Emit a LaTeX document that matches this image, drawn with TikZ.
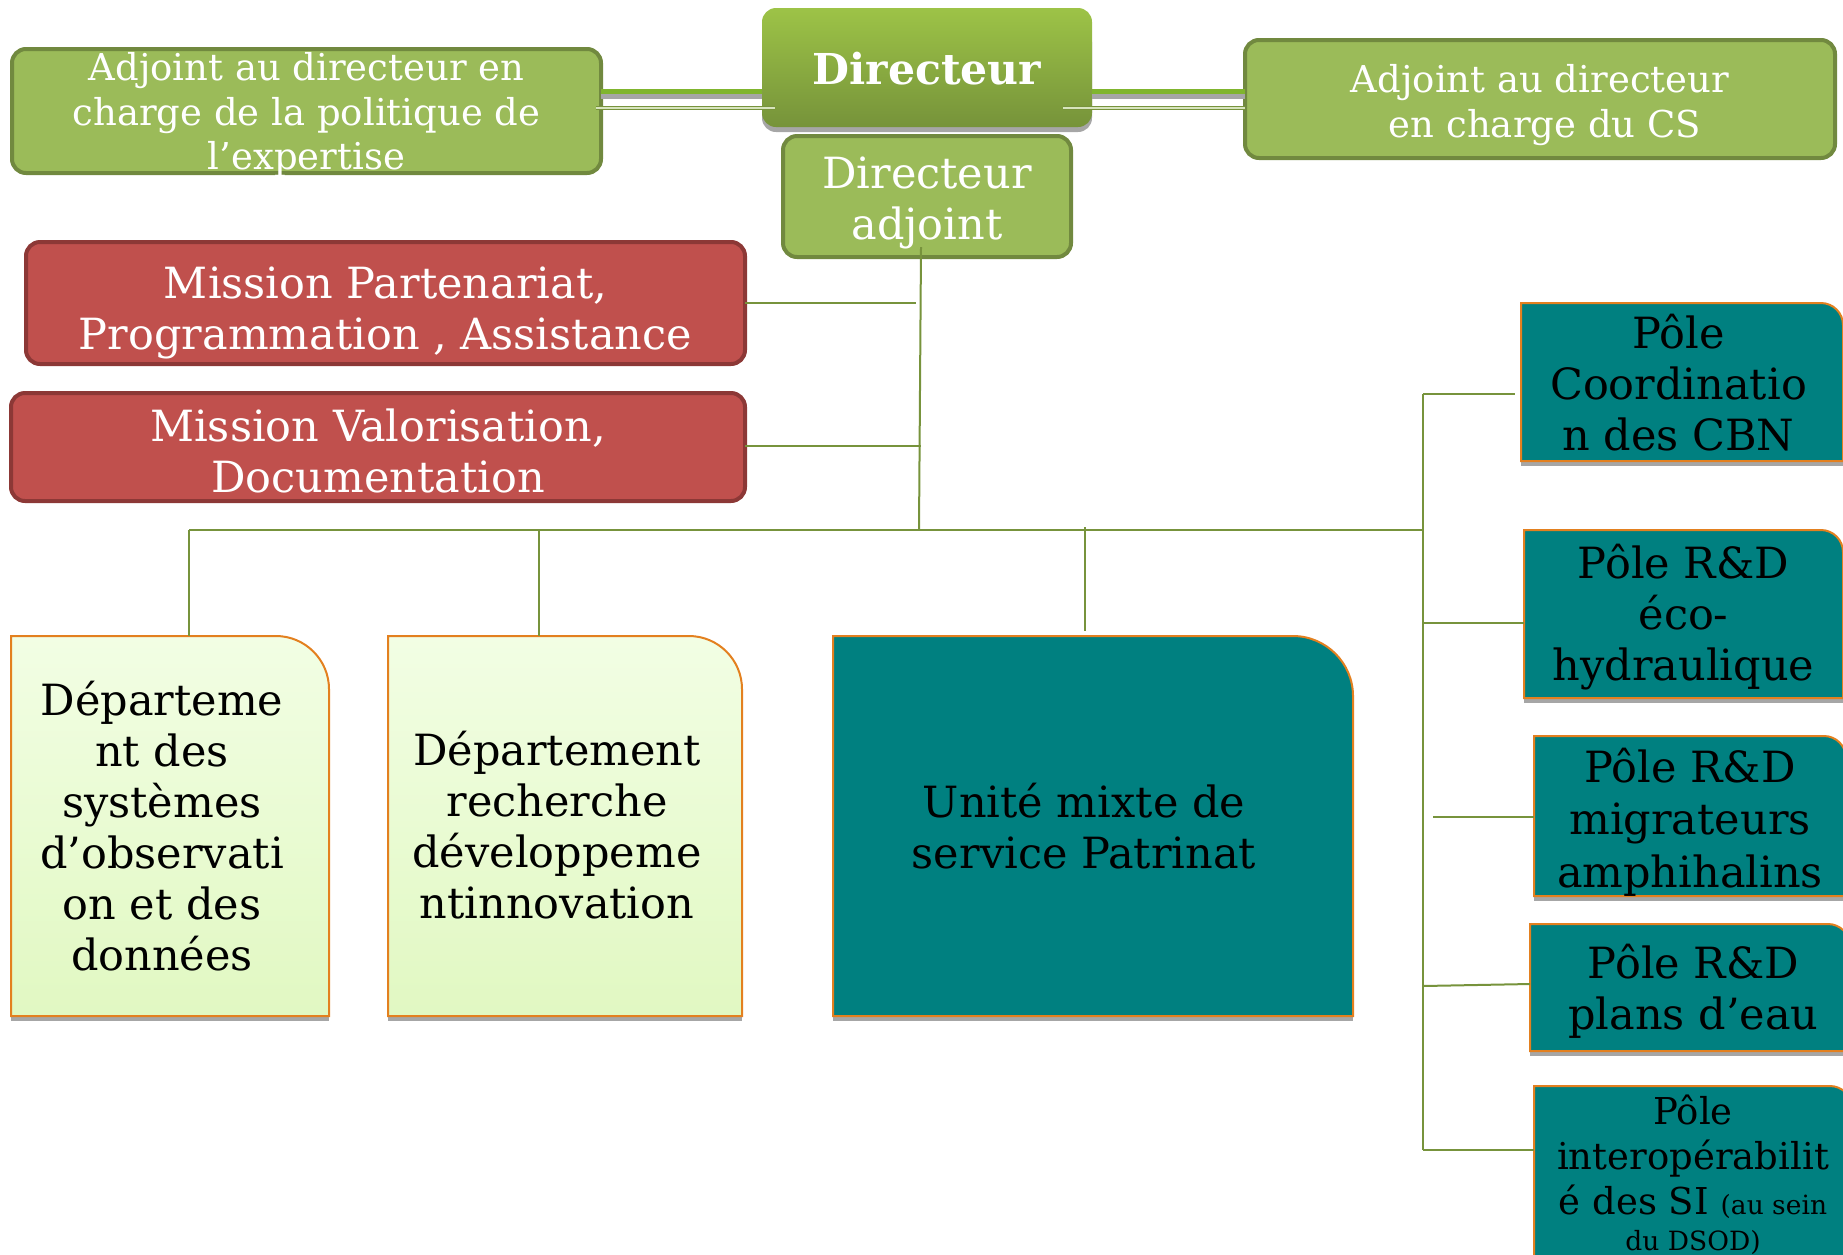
\documentclass[tikz,border=0pt]{standalone}
\usepackage{fontspec}
\setmainfont{DejaVu Serif}
\usetikzlibrary{calc}
\definecolor{gfill}{HTML}{9BBB59}
\definecolor{gdraw}{HTML}{71893F}
\definecolor{rfill}{HTML}{C0504D}
\definecolor{rdraw}{HTML}{8C3836}
\definecolor{tealc}{HTML}{008080}
\definecolor{orng}{HTML}{E3801F}
\definecolor{conn}{HTML}{77933C}
\definecolor{lgtop}{HTML}{F2FEE4}
\definecolor{lgbot}{HTML}{E1F8C2}
\definecolor{dtop}{HTML}{9DC347}
\definecolor{dbot}{HTML}{76933A}
\definecolor{shad}{HTML}{A6A6A6}
\definecolor{brightg}{HTML}{80B52E}
\newcommand\fsBig{\fontsize{43}{51}\selectfont}
\newcommand\fsMid{\fontsize{37}{44.7}\selectfont}
\newcommand\fsTiny{\fontsize{26.5}{32}\selectfont}
\newcommand\TRshape[3]{\path[#3] (#1.south west) -- (#1.north west) -- ($(#1.north east)+(-#2,0)$) .. controls ($(#1.north east)+(-0.45*#2,0)$) and ($(#1.north east)+(0,0.45*#2)$) .. ($(#1.north east)+(0,#2)$) -- (#1.south east) -- cycle;}
\newcommand\BotShadow[1]{\fill[shad] ($(#1.south west)+(0,-4)$) rectangle ($(#1.south east)+(0,5)$);}
\begin{document}
\begin{tikzpicture}[x=1pt,y=-1pt,
  frame/.style={anchor=north west,inner sep=0pt,outer sep=0pt},
  label/.style={anchor=center,inner sep=0pt,align=center},
  wtext/.style={label,text=white},
  btext/.style={label,text=black},
  link/.style={conn,line width=2},
  greenbox/.style={rounded corners=14,fill=gfill,draw=gdraw,line width=4},
  redbox/.style={rounded corners=14,fill=rfill,draw=rdraw,line width=4},
  tealbox/.style={fill=tealc,draw=orng,line width=2},
  lightbox/.style={top color=lgtop,bottom color=lgbot,draw=orng,line width=2},
]
\useasboundingbox (0,0) rectangle (1843,1254);
\clip (0,0) rectangle (1843,1254);

% ---- box frames ----
\node[frame,minimum width=330,minimum height=119] (D) at (762,8) {};
\node[frame,minimum width=589,minimum height=124] (AL) at (12,49) {};
\node[frame,minimum width=590,minimum height=118] (AR) at (1245,40) {};
\node[frame,minimum width=288,minimum height=121] (DA) at (783,136) {};
\node[frame,minimum width=719,minimum height=122] (MP) at (26,242) {};
\node[frame,minimum width=734,minimum height=108] (MV) at (11,393) {};
\node[frame,minimum width=322,minimum height=158] (P1) at (1521,303) {};
\node[frame,minimum width=319,minimum height=168] (P2) at (1524,530) {};
\node[frame,minimum width=312,minimum height=160] (P3) at (1534,736) {};
\node[frame,minimum width=320,minimum height=127] (P4) at (1530,924) {};
\node[frame,minimum width=318,minimum height=200] (P5) at (1534,1086) {};
\node[frame,minimum width=318,minimum height=380] (DP1) at (11,636) {};
\node[frame,minimum width=354,minimum height=380] (DP2) at (388,636) {};
\node[frame,minimum width=520,minimum height=380] (U) at (833,636) {};

% ---- box shapes ----
\fill[shad,rounded corners=14] ($(D.north west)+(0,20)$) rectangle ($(D.south east)+(0,5)$);
\path[rounded corners=14,top color=dtop,bottom color=dbot] (D.south west) rectangle (D.north east);
\path[greenbox] (AL.south west) rectangle (AL.north east);
\path[greenbox] (AR.south west) rectangle (AR.north east);
\path[greenbox] (DA.south west) rectangle (DA.north east);
\path[redbox] (MP.south west) rectangle (MP.north east);
\path[redbox] (MV.south west) rectangle (MV.north east);
\foreach \n in {P1,P2,P3,P4,P5,DP1,DP2,U}{\BotShadow{\n}}
\TRshape{P1}{22}{tealbox}
\TRshape{P2}{22}{tealbox}
\TRshape{P3}{22}{tealbox}
\TRshape{P4}{22}{tealbox}
\TRshape{P5}{22}{tealbox}
\TRshape{DP1}{53}{lightbox}
\TRshape{DP2}{53}{lightbox}
\TRshape{U}{60}{tealbox}

% ---- texts ----
\node[wtext,font=\fontsize{42.6}{50}\selectfont\bfseries] (Dt) at ($(D.center)+(0,1)$) {Directeur};
\node[wtext,font=\fsMid] (ALt) at ($(AL.center)+(0,4)$) {Adjoint au directeur en\\charge de la politique de\\l’expertise};
\node[wtext,font=\fsMid] (ARt) at ($(AR.center)+(0,6)$) {Adjoint au directeur\\\hspace*{10pt}en charge du CS};
\node[wtext,font=\fsBig] (DAt) at ($(DA.center)+(0,6)$) {Directeur\\adjoint};
\node[wtext,font=\fsBig] (MPt) at ($(MP.center)+(0,10)$) {Mission Partenariat,\\Programmation , Assistance};
\node[wtext,font=\fsBig] (MVt) at ($(MV.center)+(0,4)$) {Mission Valorisation,\\Documentation};
\node[btext,font=\fsBig] (P1t) at ($(P1.center)+(-3.5,1)$) {Pôle\\Coordinatio\\n des CBN};
\node[btext,font=\fsBig] (P2t) at ($(P2.center)+(0,3.5)$) {Pôle R\&D\\éco-\\hydraulique};
\node[btext,font=\fontsize{43}{52.3}\selectfont] (P3t) at ($(P3.center)+(0,6)$) {Pôle R\&D\\migrateurs\\amphihalins};
\node[btext,font=\fsBig] (P4t) at ($(P4.center)+(3.5,3.5)$) {Pôle R\&D\\plans d’eau};
\node[btext,font=\fsMid] (P5t) at ($(P5.center)+(0,-11)$) {Pôle\\interopérabilit\\é des SI {\fsTiny(au sein}\\[-8pt]{\fsTiny du DSOD)}};
\node[btext,font=\fsBig] (DP1t) at ($(DP1.center)+(-8,0)$) {Départeme\\nt des\\systèmes\\d’observati\\on et des\\données};
\node[btext,font=\fsBig] (DP2t) at ($(DP2.center)+(-8,-1)$) {Département\\recherche\\développeme\\ntinnovation};
\node[btext,font=\fsBig] (Ut) at ($(U.center)+(-9,0)$) {Unité mixte de\\service Patrinat};

% ---- connectors ----
\coordinate (tk) at (0,91);
\coordinate (tks) at (0,96);
\coordinate (td) at (0,108);
\draw[shad,line width=5] (AL.east |- tks) -- (D.west |- tks);
\draw[shad,line width=5] (D.east |- tks) -- (AR.west |- tks);
\draw[brightg,line width=5] (AL.east |- tk) -- (D.west |- tk);
\draw[brightg,line width=5] (D.east |- tk) -- (AR.west |- tk);
\draw[conn,line width=1,double=gfill!40,double distance=1.5] ($(AL.east |- td)+(-5,0)$) -- ($(D.west |- td)+(13,0)$);
\draw[conn,line width=1,double=gfill!40,double distance=1.5] ($(D.east |- td)+(-29,0)$) -- (AR.west |- td);

\coordinate (daB) at (921,247);
\coordinate (hub) at (919,530);
\coordinate (busL) at (189,530);
\coordinate (busR) at (1423,530);
\coordinate (spT) at (1423,394);
\coordinate (spB) at (1423,1150);
\draw[link] (daB) -- (hub);
\draw[link] (MP.east |- 0,303) -- (916,303);
\draw[link] (MV.east |- 0,446) -- (921,446);
\draw[link] (busL) -- (busR);
\draw[link] (busL) -- (busL |- DP1.north);
\draw[link] (539,530) -- (DP2.north -| 539,0);
\draw[link] (1085,527) -- (1085,631);
\draw[link] (spT) -- (spB);
\draw[link] (spT) -- (1515,394);
\draw[link] (1423,623) -- (P2.west |- 0,623);
\draw[link] (1433,817) -- (P3.west |- 0,817);
\draw[link] (1423,986) -- (P4.west |- 0,984);
\draw[link] (spB) -- (P5.west |- spB);
\end{tikzpicture}
\end{document}
